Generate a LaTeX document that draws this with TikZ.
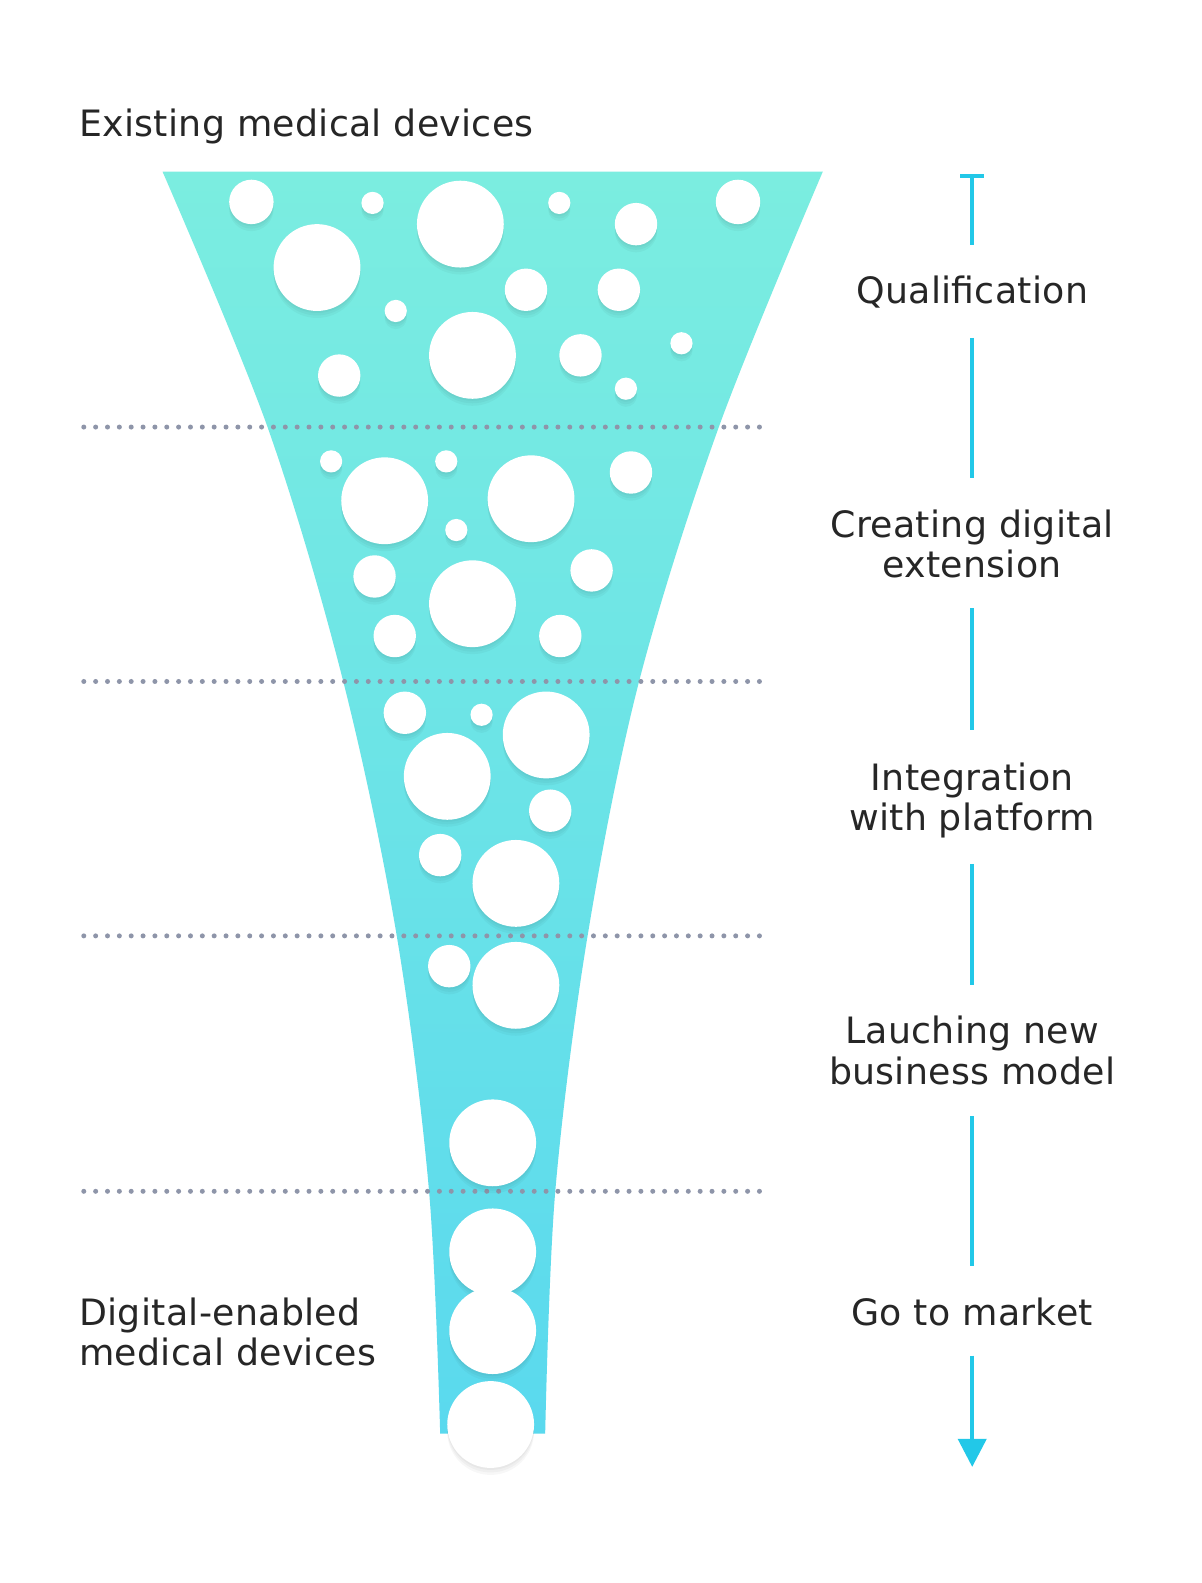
\documentclass[tikz,border=0pt]{standalone}
\usepackage{fontspec}
\setmainfont{DejaVu Sans}[LetterSpace=0.8]
\usetikzlibrary{arrows.meta, positioning}
\definecolor{cink}{HTML}{262626}
\definecolor{cmint}{HTML}{7BEDE0}
\definecolor{csky}{HTML}{5AD9EE}
\definecolor{cdot}{HTML}{8E95A9}
\definecolor{ccyan}{HTML}{22C8E8}
\tikzset{
  every picture/.style={line width=1.2pt},
  txt/.style={font=\fontsize{36.3}{40.4}\selectfont, text=cink, inner sep=0pt},
  stage/.style={txt, align=center, anchor=base},
  side/.style={txt, align=left, anchor=base west},
  seg/.style={draw=ccyan, line width=4pt},
  dots/.style={draw=cdot, line width=5pt, line cap=round, dash pattern=on 0pt off 11.85pt},
  bubble/.style={fill=white,
    preaction={fill=black, fill opacity=0.03, transform canvas={yshift=-7pt}},
    preaction={fill=black, fill opacity=0.03, transform canvas={yshift=-4.5pt}},
    preaction={fill=black, fill opacity=0.03, transform canvas={yshift=-2pt}}},
}

\begin{document}
\begin{tikzpicture}[x=1.0093pt, y=-1.0093pt]
  \useasboundingbox (0,0) rectangle (1190,1568);
  \fill[white] (0,0) rectangle (1190,1568);
  % ---------- funnel
  \shade[top color=cmint, bottom color=csky]
    plot[smooth, tension=0.55] coordinates {(161,170) (265,423) (340,675) (393,927) (425,1180) (436,1420)}
    -- plot[smooth, tension=0.55] coordinates {(540,1420) (550,1180) (582,927) (633,675) (712,423) (815,170)}
    -- cycle;
  \foreach \y in {423,675,927,1180} \draw[dots] (83,\y) -- (753,\y);
  % ---------- bubbles
  \foreach \x/\y/\r in {249/200/22, 369/201/11, 456/222/43, 554/201/11, 630/222/21, 731/200/22,
      314/265/43, 521/287/21, 613/287/21, 392/308/11, 468/352/43, 575/352/21, 675/340/11,
      336/372/21, 620/385/11,
      328/457/11, 381/496/43, 442/457/11, 526/494/43, 625/468/21, 452/525/11, 371/571/21,
      586/565/21, 468/598/43, 391/630/21, 555/630/21,
      401/706/21, 477/708/11, 541/728/43, 443/769/43, 545/803/21, 436/847/21, 511/875/43,
      445/957/21, 511/976/43, 488/1132/43,
      488/1240/43, 488/1318/43, 486/1411/43}
    \fill[bubble] (\x,\y) circle[radius=\r];
  % ---------- side labels (base = last line)
  \node[side] (exist) at (78,135) {Existing medical devices};
  \node[side] (digit) at (78,1353) {Digital-enabled\\medical devices};
  % ---------- stages
  \coordinate (start) at (963,172);
  \node[stage] (qual) at (963,301) {Qualification};
  \node[stage] (creat) at (963,572) {Creating digital\\extension};
  \node[stage] (integ) at (963,823) {Integration\\with platform};
  \node[stage] (launch) at (963,1074) {Lauching new\\business model};
  \node[stage] (market) at (963,1313) {Go to market};
  \coordinate (finish) at (963,1453);
  \draw[seg, {Bar[width=24pt]}-, shorten >=59pt] (start) -- (qual.base);
  \draw[seg, shorten <=34pt, shorten >=99pt] (qual.base) -- (creat.base);
  \draw[seg, shorten <=31pt, shorten >=101pt] (creat.base) -- (integ.base);
  \draw[seg, shorten <=33pt, shorten >=99pt] (integ.base) -- (launch.base);
  \draw[seg, shorten <=32pt, shorten >=60pt] (launch.base) -- (market.base);
  \draw[seg, -{Triangle[width=28pt, length=28pt]}, shorten <=30pt] (market.base) -- (finish);
\end{tikzpicture}
\end{document}
